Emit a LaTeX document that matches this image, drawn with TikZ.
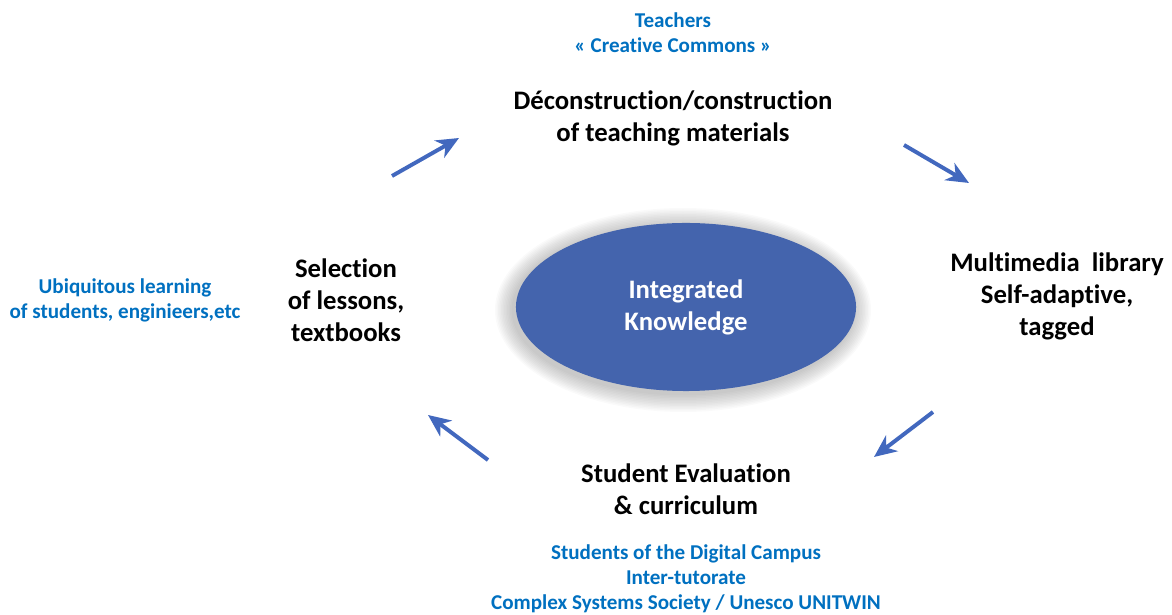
\documentclass[tikz,border=0pt]{standalone}
\usepackage{fontspec}
\setmainfont{Carlito}[RawFeature=-liga]
\usepackage{tikz}
\usetikzlibrary{positioning}
\usetikzlibrary{arrows.meta}
\usetikzlibrary{shapes.geometric}
\definecolor{knowblue}{RGB}{68,100,173}
\definecolor{noteblue}{RGB}{0,112,192}
\definecolor{arrowblue}{RGB}{66,104,190}

\begin{document}
\begin{tikzpicture}[x=0.025cm, y=-0.025cm,
    stage/.style={text centered, align=center, font=\bfseries\fontsize{19}{22.8}\selectfont},
    note/.style={text centered, align=center, text=noteblue, font=\bfseries\fontsize{15}{17.9}\selectfont},
    flow/.style={-{Stealth[length=16pt, width=14pt, inset=5pt]}, arrowblue, line width=2.8pt}]
        \useasboundingbox (0,0) rectangle (1172,615);

        % soft shadow round the centre %
        \foreach \r in {1,...,12}
          \fill[black, opacity=0.018] (683,310) ellipse ({170+1.5*\r} and {84+1.5*\r});

        % nodes %
        \node[ellipse, fill=knowblue, minimum width=8.5cm, minimum height=4.2cm, text=white,
              stage] (know) at (686,307) {Integrated\\Knowledge};
        \node[stage] (build) at (673,118) {Déconstruction/construction\\of teaching materials};
        \node[stage] (lib) at (1057,296) {Multimedia~ library\\Self-adaptive,\\tagged};
        \node[stage] (eval) at (686,489) {Student Evaluation\\\& curriculum};
        \node[stage] (sel) at (346,300) {Selection\\of lessons,\\textbooks};

        \node[note, above=0.7cm of build] (teach) {Teachers\\« Creative Commons »};
        \node[note] (ubiq) at (125,300) {Ubiquitous learning\\of students, enginieers,etc};
        \node[note, below=0.5cm of eval] (campus) {Students of the Digital Campus\\Inter-tutorate\\Complex Systems Society / Unesco UNITWIN};

        % arrow ends %
        \coordinate (a1) at (392,176);
        \coordinate (b1) at (459,138);
        \coordinate (a2) at (904,145);
        \coordinate (b2) at (969,183);
        \coordinate (a3) at (933,412);
        \coordinate (b3) at (874,457);
        \coordinate (a4) at (488,460);
        \coordinate (b4) at (428,415);

        % edges %
        \draw[flow] (a1) -- (b1);
        \draw[flow] (a2) -- (b2);
        \draw[flow] (a3) -- (b3);
        \draw[flow] (a4) -- (b4);
\end{tikzpicture}
\end{document}
